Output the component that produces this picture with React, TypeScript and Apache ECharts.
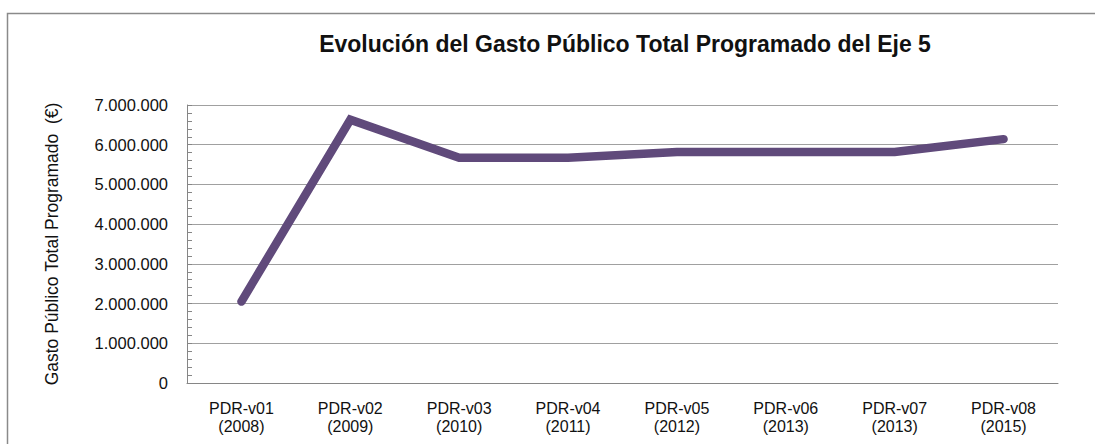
import React, { useEffect, useRef } from "react";
import * as echarts from "echarts";

const titleText = "Evolución del Gasto Público Total Programado del Eje 5";
const yAxisName = "Gasto Público Total Programado  (€)";
const categories = [
  "PDR-v01\n(2008)",
  "PDR-v02\n(2009)",
  "PDR-v03\n(2010)",
  "PDR-v04\n(2011)",
  "PDR-v05\n(2012)",
  "PDR-v06\n(2013)",
  "PDR-v07\n(2013)",
  "PDR-v08\n(2015)",
];
const gastoValues = [2050000, 6630000, 5670000, 5670000, 5815000, 5815000, 5815000, 6140000];
const yMin = 0;
const yMax = 7000000;
const yInterval = 1000000;

const FONT = "'Liberation Sans', Arial, sans-serif";

function fmt(v: number): string {
  return String(Math.round(v)).replace(/\B(?=(\d{3})+(?!\d))/g, ".");
}

export default function App() {
  const ref = useRef<HTMLDivElement>(null);
  useEffect(() => {
    if (!ref.current) return;
    const chart = echarts.init(ref.current, null, { renderer: "svg" });
    chart.setOption({
      animation: false,
      backgroundColor: "#ffffff",
      title: {
        text: titleText,
        left: 620,
        top: 27,
        textAlign: "center",
        textStyle: { fontFamily: FONT, fontWeight: "bold", fontSize: 23, color: "#111" },
      },
      graphic: [
        {
          type: "rect",
          shape: { x: 7.5, y: 13.5, width: 1200, height: 600 },
          style: { fill: "none", stroke: "#8a8a8a", lineWidth: 1.5 },
          silent: true,
        },
      ],
      grid: { left: 187, right: 37, top: 105, bottom: 61, containLabel: false },
      xAxis: {
        type: "category",
        data: categories,
        boundaryGap: true,
        axisLine: { show: true, lineStyle: { color: "#868686", width: 1 } },
        axisTick: { show: false },
        axisLabel: {
          fontFamily: FONT,
          fontSize: 16,
          color: "#111",
          lineHeight: 18,
          margin: 16,
          interval: 0,
        },
      },
      yAxis: {
        type: "value",
        min: yMin,
        max: yMax,
        interval: yInterval,
        name: yAxisName,
        nameLocation: "middle",
        nameRotate: 90,
        nameGap: 126,
        nameTextStyle: { fontFamily: FONT, fontSize: 17.5, color: "#111" },
        axisLine: { show: true, lineStyle: { color: "#868686", width: 1 } },
        axisTick: { show: true, inside: true, length: 5, lineStyle: { color: "#868686" } },
        minorTick: { show: true, splitNumber: 5, length: 5, lineStyle: { color: "#868686" } },
        splitLine: { show: true, lineStyle: { color: "#a0a0a0", width: 1.2 } },
        axisLabel: {
          fontFamily: FONT,
          fontSize: 16.5,
          color: "#111",
          margin: 19,
          formatter: (v: number) => fmt(v),
        },
      },
      series: [
        {
          type: "line",
          data: gastoValues,
          symbol: "none",
          lineStyle: { color: "#604a7b", width: 8.5, cap: "round", join: "miter" },
        },
      ],
    });
    return () => chart.dispose();
  }, []);
  return (
    <div
      ref={ref}
      style={{ position: "absolute", left: 0, top: 0, width: 1095, height: 444 }}
    />
  );
}
